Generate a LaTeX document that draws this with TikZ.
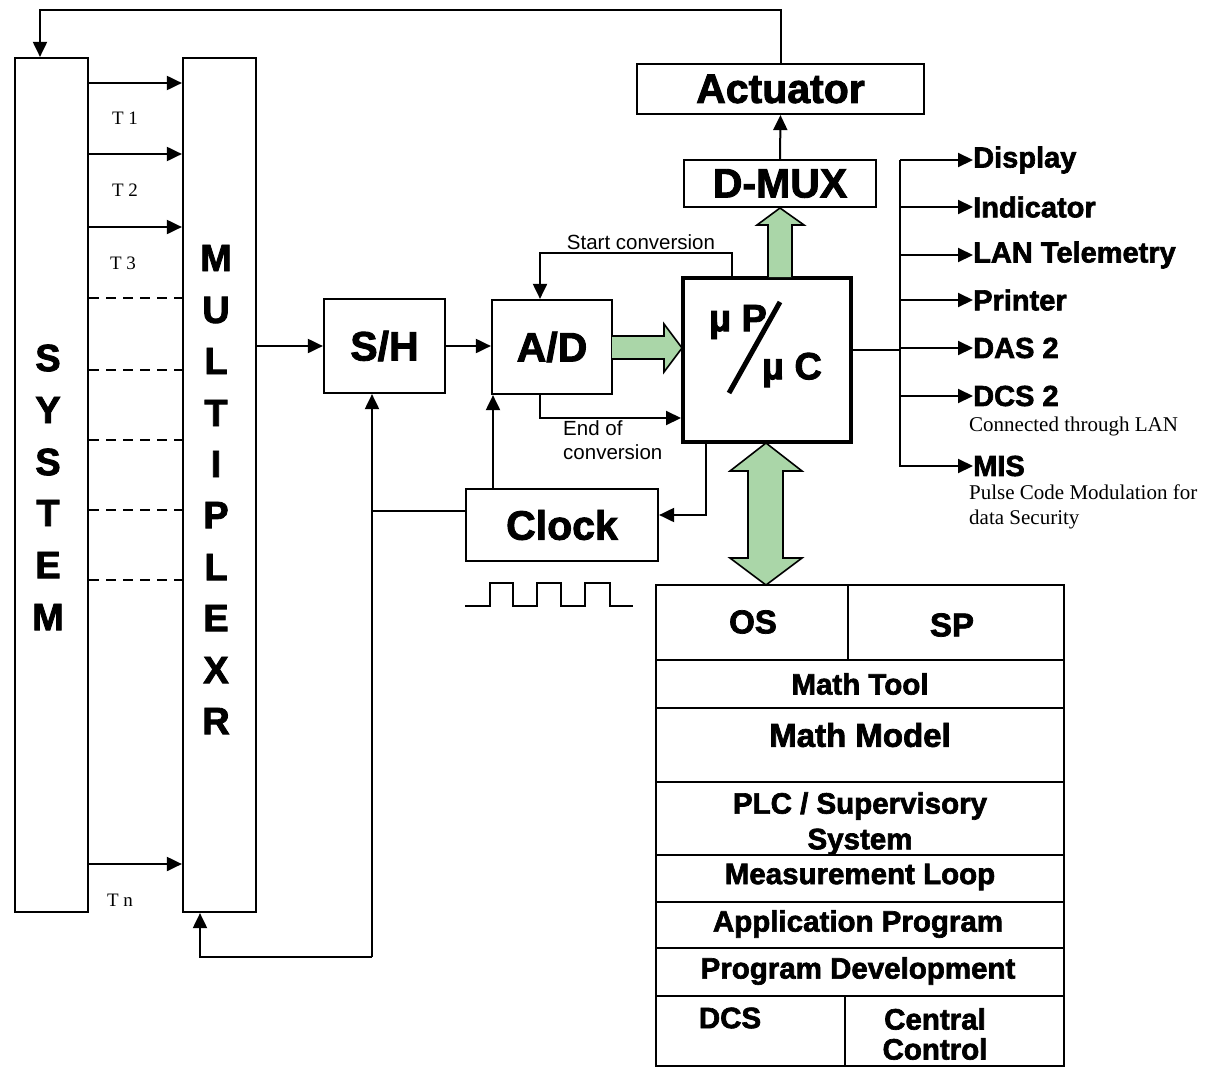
\documentclass[tikz,border=0pt]{standalone}
\usepackage{fontspec}
\setmainfont{Liberation Serif}
\setsansfont{Liberation Sans}
\newfontfamily\heavy[BoldFeatures={FakeBold=2.2}]{Liberation Sans}
\usetikzlibrary{arrows.meta}
\definecolor{grn}{RGB}{170,214,168}
\begin{document}
\begin{tikzpicture}[x=1pt,y=-1pt,
  box/.style={draw,line width=2.2pt,inner sep=0pt},
  wire/.style={line width=2pt},
  arr/.style={wire,-{Triangle[length=15pt,width=14pt]}},
  big/.style={font=\fontsize{41}{41}\heavy\bfseries},
  lett/.style={font=\fontsize{38}{38}\heavy\bfseries,inner sep=0pt},
  outl/.style={font=\fontsize{29}{29}\heavy\bfseries,anchor=west,inner sep=0pt},
  tab/.style={font=\fontsize{29.5}{29.5}\heavy\bfseries,inner sep=0pt},
  tabb/.style={font=\fontsize{33}{33}\heavy\bfseries,inner sep=0pt},
  small/.style={font=\fontsize{20.5}{24}\sffamily,inner sep=0pt},
  ser/.style={font=\fontsize{21}{25}\rmfamily,inner sep=0pt,anchor=west,align=left},
  tl/.style={font=\fontsize{19}{19}\rmfamily,inner sep=0pt},
  garrow/.style={fill=grn,draw,line width=1.6pt,line join=miter}
]
\useasboundingbox (0,0) rectangle (1214,1068);

% main boxes
\node[box,minimum width=73pt,minimum height=854pt] (sys) at (51.5,485) {};
\node[box,minimum width=73pt,minimum height=854pt] (mux) at (219.5,485) {};
\node[box,big,minimum width=121pt,minimum height=94pt] (sh) at (384.5,346) {S/H};
\node[box,big,minimum width=120pt,minimum height=94pt] (ad) at (552,347) {A/D};
\node[draw,line width=4pt,inner sep=0pt,minimum width=168pt,minimum height=164pt] (mp) at (767,360) {};
\node[box,big,minimum width=192pt,minimum height=47pt] (dmux) at (780,183.5) {D-MUX};
\node[box,big,minimum width=287pt,minimum height=50pt] (act) at (780.5,89) {Actuator};
\node[box,big,minimum width=192pt,minimum height=72pt] (clk) at (562,525) {Clock};

% letters
\foreach \l/\y [count=\i] in {S/358,Y/410,S/462,T/513,E/565,M/617}
  \node[lett] (sl\i) at (48,\y) {\l};
\foreach \l/\y [count=\i] in {M/258,U/310,L/361,T/413,I/464,P/515,L/567,E/618,X/670,R/721}
  \node[lett] (ml\i) at (216,\y) {\l};

% microprocessor text
\node[font=\fontsize{38}{38}\heavy\bfseries,inner sep=0pt] (mup) at (738,322) {µ P};
\node[font=\fontsize{38}{38}\heavy\bfseries,inner sep=0pt] (muc) at (792,370) {µ C};
\draw[line width=5pt] (729,393) -- (780,302);

% feedback
\coordinate (fb) at (40,10);
\draw[arr] (act.north) |- (fb) -- (sys.north -| fb);

% T lines
\foreach \y in {83,154,227,864}
  \draw[arr] (sys.east |- 0,\y) -- (mux.west |- 0,\y);
\foreach \y in {298,370,440,510,580}
  \draw[wire,dash pattern=on 10pt off 7pt] (sys.east |- 0,\y) -- (mux.west |- 0,\y);
\node[tl] (t1) at (125,118) {T 1};
\node[tl] (t2) at (125,190) {T 2};
\node[tl] (t3) at (123,263) {T 3};
\node[tl] (tn) at (120,900) {T n};

% signal chain
\draw[arr] (mux.east |- sh.west) -- (sh.west);
\draw[arr] (sh.east) -- (ad.west |- sh.east);

% start / end conversion
\coordinate (sc) at (540,253);
\draw[arr] (mp.north -| 732,0) |- (sc) -- (ad.north -| sc);
\node[small] (sclbl) at (641,242) {Start conversion};
\draw[arr] (ad.south -| sc) |- (mp.west |- 0,418);
\node[small,anchor=north west,align=left] (eclbl) at (563,420) {End of\\conversion};

% clock connections
\draw[arr] (clk.north -| 493,0) -- (ad.south -| 493,0);
\coordinate (cj) at (372,511);
\coordinate (cb) at (372,957);
\draw[wire] (clk.west |- cj) -- (cj);
\draw[arr] (cb) -- (sh.south -| cb);
\draw[arr] (cb) -| (mux.south -| 200,0);
\draw[arr] (mp.south -| 706,0) |- (clk.east |- 0,515);

% clock waveform
\draw[wire] (465,606) -- (490,606) -- (490,583) -- (513,583) -- (513,606) -- (537,606) -- (537,583) -- (561,583) -- (561,606) -- (585,606) -- (585,583) -- (610,583) -- (610,606) -- (633,606);

% D-MUX to actuator
\draw[arr] (dmux.north) -- (act.south);

% green arrows
\draw[garrow] (612,336) -- (664,336) -- (664,324) -- (682,348) -- (664,372) -- (664,359) -- (612,359);
\draw[garrow] (768,277) -- (768,225) -- (757,225) -- (780,208) -- (804,225) -- (792,225) -- (792,277);
\draw[garrow] (748,471) -- (730,471) -- (766,443) -- (802,471) -- (783,471) -- (783,558) -- (802,558) -- (766,585) -- (730,558) -- (748,558) -- cycle;

% outputs
\draw[wire] (mp.east |- 0,350) -- (900,350);
\draw[wire] (900,160) -- (900,467);
\foreach \n/\t/\y in {disp/Display/160,ind/Indicator/207,lan/LAN Telemetry/255,prn/Printer/300,das/DAS 2/348,dcs/DCS 2/396,mis/MIS/466}{
  \node[outl] (\n) at (973,\y) {\t};
  \draw[arr] (900,\y) -- (\n.west);
}
\node[ser] (lanlbl) at (969,426) {Connected through LAN};
\node[ser,anchor=north west] (pcm) at (969,485) {Pulse Code Modulation for\\data Security};

% table
\draw[line width=2.2pt] (656,585) rectangle (1064,1066);
\foreach \y in {660,708,782,855,902,948,996}
  \draw[line width=2.2pt] (656,\y) -- (1064,\y);
\draw[line width=2.2pt] (848,585) -- (848,660);
\draw[line width=2.2pt] (845,996) -- (845,1066);
\node[tabb] (os) at (753,622) {OS};
\node[tabb] (sp) at (952,625) {SP};
\node[tab] (mtool) at (860,684) {Math Tool};
\node[tabb] (mmod) at (860,735) {Math Model};
\node[tab] (plc) at (860,806) {PLC / Supervisory};
\node[tab] (plc2) at (860,842) {System};
\node[tab] (meas) at (860,877) {Measurement Loop};
\node[tab] (app) at (858,924) {Application Program};
\node[tab] (pdev) at (858,971) {Program Development};
\node[tab] (dcsn) at (730,1018) {DCS};
\node[tab] (cen) at (935,1019) {Central};
\node[tab] (con) at (935,1049) {Control};
\end{tikzpicture}
\end{document}
